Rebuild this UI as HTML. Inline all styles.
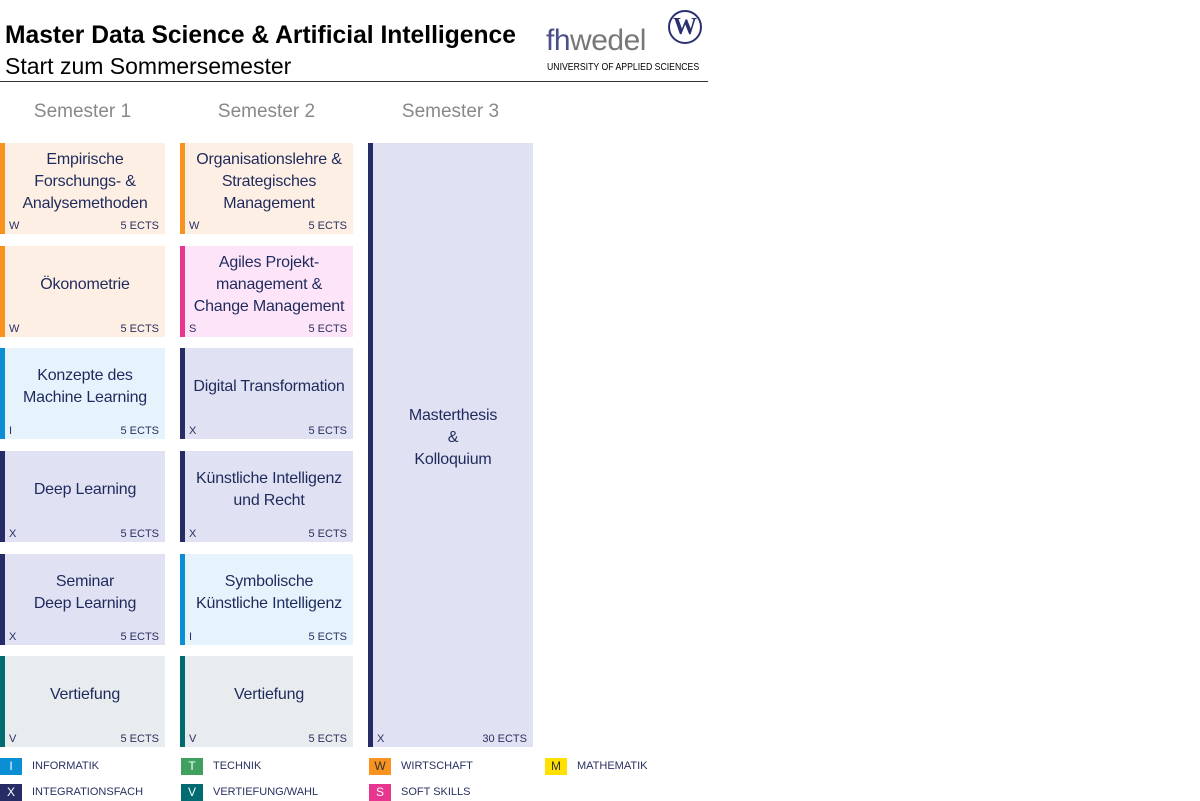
<!DOCTYPE html>
<html><head><meta charset="utf-8"><style>
*{margin:0;padding:0;box-sizing:border-box}
body{width:1200px;height:800px;background:#fff;position:relative;overflow:hidden;font-family:"Liberation Sans",sans-serif;color:#1f2a5c}
.a{position:absolute}
.box{position:absolute;border-left:5px solid}
.box .t{position:absolute;left:0;right:0;top:0;bottom:14px;display:flex;align-items:center;justify-content:center;text-align:center;font-size:16px;line-height:22px;color:#1f2a5c;letter-spacing:-0.2px}
.box .l{position:absolute;left:4px;bottom:2px;font-size:11px;color:#2a3060}
.box .r{position:absolute;right:6px;bottom:2px;font-size:11px;color:#2a3060}
.W{border-color:#f7931e;background:#fdefe4}
.S{border-color:#e8368f;background:#fde4f8}
.X{border-color:#262d66;background:#e0e1f2}
.I{border-color:#0a8fd4;background:#e6f3fc}
.V{border-color:#006b70;background:#e8ecee}
.sem{position:absolute;top:101px;font-size:19px;color:#888;text-align:center}
.sw{position:absolute;width:22px;height:17px;color:#fff;font-size:12px;text-align:center;line-height:17px}
.lt{position:absolute;font-size:11px;color:#2a3060}
</style></head><body>
<div class="a" style="left:5px;top:21px;font-size:25px;font-weight:bold;color:#000;white-space:nowrap;transform:scaleX(0.985);transform-origin:left">Master Data Science &amp; Artificial Intelligence</div>
<div class="a" style="left:5px;top:53px;font-size:23px;color:#000;white-space:nowrap">Start zum Sommersemester</div>
<div class="a" style="left:0;top:81px;width:708px;height:1px;background:#333"></div>
<div class="a" style="left:546px;top:24px;font-size:30px;color:#4a4f86;letter-spacing:-0.5px"><span>fh</span><span style="color:#777">wedel</span></div>
<div class="a" style="left:668px;top:10px;width:34px;height:34px;border-radius:50%;border:2px solid #2b3070;color:#2b3070;font-family:'Liberation Serif',serif;font-weight:bold;font-size:24px;text-align:center;line-height:30px">W</div>
<div class="a" style="left:547px;top:62px;font-size:10px;color:#000;white-space:nowrap;transform:scaleX(0.87);transform-origin:left">UNIVERSITY OF APPLIED SCIENCES</div>

<div class="sem" style="left:0;width:165px">Semester 1</div>
<div class="sem" style="left:180px;width:173px">Semester 2</div>
<div class="sem" style="left:368px;width:165px">Semester 3</div>

<div class="box W" style="left:0;top:143px;width:165px;height:91px"><div class="t">Empirische<br>Forschungs- &amp;<br>Analysemethoden</div><span class="l">W</span><span class="r">5 ECTS</span></div>
<div class="box W" style="left:0;top:246px;width:165px;height:91px"><div class="t">Ökonometrie</div><span class="l">W</span><span class="r">5 ECTS</span></div>
<div class="box I" style="left:0;top:348px;width:165px;height:91px"><div class="t">Konzepte des<br>Machine Learning</div><span class="l">I</span><span class="r">5 ECTS</span></div>
<div class="box X" style="left:0;top:451px;width:165px;height:91px"><div class="t">Deep Learning</div><span class="l">X</span><span class="r">5 ECTS</span></div>
<div class="box X" style="left:0;top:554px;width:165px;height:91px"><div class="t">Seminar<br>Deep Learning</div><span class="l">X</span><span class="r">5 ECTS</span></div>
<div class="box V" style="left:0;top:656px;width:165px;height:91px"><div class="t">Vertiefung</div><span class="l">V</span><span class="r">5 ECTS</span></div>

<div class="box W" style="left:180px;top:143px;width:173px;height:91px"><div class="t">Organisationslehre &amp;<br>Strategisches<br>Management</div><span class="l">W</span><span class="r">5 ECTS</span></div>
<div class="box S" style="left:180px;top:246px;width:173px;height:91px"><div class="t">Agiles Projekt-<br>management &amp;<br>Change Management</div><span class="l">S</span><span class="r">5 ECTS</span></div>
<div class="box X" style="left:180px;top:348px;width:173px;height:91px"><div class="t">Digital Transformation</div><span class="l">X</span><span class="r">5 ECTS</span></div>
<div class="box X" style="left:180px;top:451px;width:173px;height:91px"><div class="t">Künstliche Intelligenz<br>und Recht</div><span class="l">X</span><span class="r">5 ECTS</span></div>
<div class="box I" style="left:180px;top:554px;width:173px;height:91px"><div class="t">Symbolische<br>Künstliche Intelligenz</div><span class="l">I</span><span class="r">5 ECTS</span></div>
<div class="box V" style="left:180px;top:656px;width:173px;height:91px"><div class="t">Vertiefung</div><span class="l">V</span><span class="r">5 ECTS</span></div>

<div class="box X" style="left:368px;top:143px;width:165px;height:604px"><div class="t" style="bottom:0;top:0;padding-bottom:12px;align-items:flex-start;padding-top:262px">Masterthesis<br>&amp;<br>Kolloquium</div><span class="l">X</span><span class="r">30 ECTS</span></div>

<div class="sw" style="left:0;top:758px;background:#0a8fd4">I</div><div class="lt" style="left:32px;top:760px">INFORMATIK</div>
<div class="sw" style="left:181px;top:758px;background:#3fa060">T</div><div class="lt" style="left:213px;top:760px">TECHNIK</div>
<div class="sw" style="left:369px;top:758px;background:#f7931e;color:#333">W</div><div class="lt" style="left:401px;top:760px">WIRTSCHAFT</div>
<div class="sw" style="left:545px;top:758px;background:#ffe000;color:#333">M</div><div class="lt" style="left:577px;top:760px">MATHEMATIK</div>
<div class="sw" style="left:0;top:784px;background:#262d66">X</div><div class="lt" style="left:32px;top:786px">INTEGRATIONSFACH</div>
<div class="sw" style="left:181px;top:784px;background:#006b70">V</div><div class="lt" style="left:213px;top:786px">VERTIEFUNG/WAHL</div>
<div class="sw" style="left:369px;top:784px;background:#e8368f">S</div><div class="lt" style="left:401px;top:786px">SOFT SKILLS</div>
</body></html>
